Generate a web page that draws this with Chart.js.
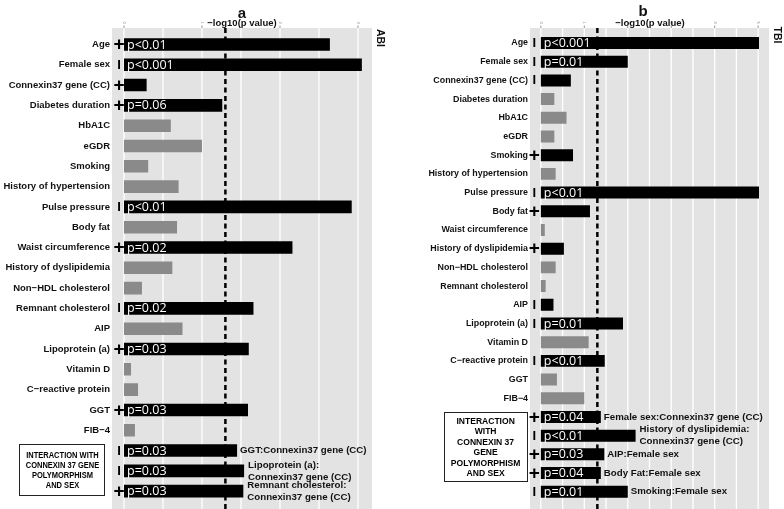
<!DOCTYPE html>
<html>
<head>
<meta charset="utf-8">
<script src="https://cdn.jsdelivr.net/npm/chart.js@4.4.1/dist/chart.umd.min.js"></script>
<style>
  body { margin: 0; background: #fff; width: 784px; height: 509px; overflow: hidden; position: relative; font-family: "Liberation Sans", Arial, sans-serif; }
  canvas { position: absolute; top: 0; }
  #chartA { left: 0; }
  #chartB { left: 392px; }
  .lbl { position: absolute; font-weight: bold; color: #111; white-space: nowrap; transform: translate(-50%, -50%); }
  .side { transform: translate(-50%, -50%) rotate(90deg); font-size: 10.5px; }
  .box { position: absolute; border: 1.5px solid #222; box-sizing: border-box; display: flex; align-items: center; justify-content: center; text-align: center;
         font-family: "Liberation Sans", Arial, sans-serif; font-weight: bold; font-size: 9.5px; line-height: 10px; color: #000; white-space: nowrap; }
  .box span { display: inline-block; transform: scaleX(0.79); }
  .box.tall span { transform: scaleX(0.9); }
</style>
</head>
<body>
<canvas id="chartA" width="392" height="509"></canvas>
<canvas id="chartB" width="392" height="509"></canvas>

<div class="lbl" style="left:242px;top:12px;font-size:15px;">a</div>
<div class="lbl" style="left:242px;top:21.5px;font-size:9.5px;">−log10(p value)</div>
<div class="lbl side" style="left:381px;top:38px;">ABI</div>
<div class="lbl" style="left:643px;top:10px;font-size:15px;">b</div>
<div class="lbl" style="left:650px;top:21.5px;font-size:9.5px;">−log10(p value)</div>
<div class="lbl side" style="left:778px;top:35px;">TBI</div>

<div class="box" style="left:19px;top:444px;width:86px;height:52px;"><span>INTERACTION WITH<br>CONNEXIN 37 GENE<br>POLYMORPHISM<br>AND SEX</span></div>
<div class="box tall" style="left:444px;top:412px;width:84px;height:70px;line-height:10.5px;"><span>INTERACTION<br>WITH<br>CONNEXIN 37<br>GENE<br>POLYMORPHISM<br>AND SEX</span></div>

<script>
// variables tested in both panels (top to bottom)
const variables = ['Age', 'Female sex', 'Connexin37 gene (CC)', 'Diabetes duration', 'HbA1C', 'eGDR', 'Smoking',
  'History of hypertension', 'Pulse pressure', 'Body fat', 'Waist circumference', 'History of dyslipidemia',
  'Non−HDL cholesterol', 'Remnant cholesterol', 'AIP', 'Lipoprotein (a)', 'Vitamin D', 'C−reactive protein', 'GGT', 'FIB−4'];

// panel a : ABI
const abiInteractions = [['GGT:Connexin37 gene (CC)'], ['Lipoprotein (a):', 'Connexin37 gene (CC)'], ['Remnant cholesterol:', 'Connexin37 gene (CC)']];
const abiValues = [2.64, 3.05, 0.29, 1.26, 0.60, 1.00, 0.31, 0.70, 2.92, 0.68, 2.16, 0.62, 0.23, 1.66, 0.75, 1.60, 0.09, 0.18, 1.59, 0.14,
  1.45, 1.54, 1.53];
const abiSigns = ['+', 'I', '+', '+', '', '', '', '', 'I', '', '+', '', '', 'I', '', '+', '', '', '+', '', 'I', 'I', '+'];
const abiP = ['p<0.01', 'p<0.001', '', 'p=0.06', '', '', '', '', 'p<0.01', '', 'p=0.02', '', '', 'p=0.02', '', 'p=0.03', '', '', 'p=0.03', '',
  'p=0.03', 'p=0.03', 'p=0.03'];
const abiTicks = [0, 1, 2, 3];

// panel b : TBI
const tbiInteractions = [['Female sex:Connexin37 gene (CC)'], ['History of dyslipidemia:', 'Connexin37 gene (CC)'], ['AIP:Female sex'],
  ['Body Fat:Female sex'], ['Smoking:Female sex']];
const tbiValues = [5.02, 2.00, 0.69, 0.31, 0.59, 0.31, 0.74, 0.34, 5.02, 1.13, 0.09, 0.53, 0.34, 0.11, 0.29, 1.89, 1.10, 1.47, 0.37, 1.00,
  1.38, 2.18, 1.46, 1.38, 2.00];
const tbiSigns = ['I', 'I', 'I', '', '', '', '+', '', 'I', '+', '', '+', '', '', 'I', 'I', '', 'I', '', '', '+', 'I', '+', '+', 'I'];
const tbiP = ['p<0.001', 'p=0.01', '', '', '', '', '', '', 'p<0.01', '', '', '', '', '', '', 'p=0.01', '', 'p<0.01', '', '',
  'p=0.04', 'p<0.01', 'p=0.03', 'p=0.04', 'p=0.01'];
const tbiTicks = [0, 1, 2, 3, 4, 5];

const sigLine = 1.3; // -log10(0.05)

// Plugin vẽ nền xám, lưới, đường p=0.05, dấu +/I và nhãn p
const panelPlugin = {
  id: 'panel',
  beforeDraw(chart, args, o) {
    const ctx = chart.ctx, xs = chart.scales.x, a = chart.chartArea;
    ctx.save();
    ctx.fillStyle = '#e3e3e3';
    ctx.fillRect(a.left, o.bgTop, a.right - a.left, chart.height - o.bgTop);
    ctx.strokeStyle = '#fff';
    ctx.lineWidth = 1.3;
    for (let v = 0; v <= o.gridMax + 1e-6; v += 0.5) {
      const px = xs.getPixelForValue(v);
      ctx.beginPath(); ctx.moveTo(px, o.bgTop); ctx.lineTo(px, chart.height); ctx.stroke();
    }
    ctx.strokeStyle = '#777';
    ctx.lineWidth = 0.8;
    ctx.fillStyle = '#888';
    ctx.font = '4px "Liberation Sans"';
    o.ticks.forEach(t => {
      const px = xs.getPixelForValue(t);
      ctx.beginPath(); ctx.moveTo(px, o.bgTop - 2.5); ctx.lineTo(px, o.bgTop); ctx.stroke();
      ctx.save();
      ctx.translate(px, o.bgTop - 5.5);
      ctx.rotate(Math.PI / 2);
      ctx.textAlign = 'center'; ctx.textBaseline = 'middle';
      ctx.fillText(String(t), 0, 0);
      ctx.restore();
    });
    ctx.restore();
  },
  beforeDatasetsDraw(chart, args, o) {
    const ctx = chart.ctx, px = chart.scales.x.getPixelForValue(sigLine);
    ctx.save();
    ctx.strokeStyle = '#000';
    ctx.lineWidth = 2.5;
    ctx.setLineDash([5, 3.5]);
    ctx.beginPath(); ctx.moveTo(px, o.bgTop); ctx.lineTo(px, chart.height); ctx.stroke();
    ctx.restore();
  },
  afterDatasetsDraw(chart, args, o) {
    const ctx = chart.ctx, xs = chart.scales.x;
    const bars = chart.getDatasetMeta(0).data;
    const x0 = xs.getPixelForValue(0);
    const sx = xs.getPixelForValue(o.signX);
    ctx.save();
    bars.forEach((bar, i) => {
      const s = o.signs[i];
      if (s) {
        ctx.fillStyle = '#000';
        ctx.textAlign = 'center';
        ctx.textBaseline = 'middle';
        ctx.font = s === '+' ? 'bold 19px "Liberation Sans"' : 'bold 13px "Liberation Sans"';
        ctx.fillText(s, sx, bar.y + 0.5);
      }
      if (o.pvals[i]) {
        ctx.fillStyle = '#fff';
        ctx.textAlign = 'left';
        ctx.textBaseline = 'middle';
        ctx.font = '12.5px "Open Sans"';
        ctx.fillText(o.pvals[i], x0 + 3, bar.y + 0.5);
      }
      const k = i - o.nVars;
      if (k >= 0) {
        const lines = o.inter[k];
        ctx.fillStyle = '#111';
        ctx.textAlign = 'left';
        ctx.textBaseline = 'middle';
        ctx.font = 'bold 9.7px "Liberation Sans"';
        if (lines.length === 1) {
          ctx.fillText(lines[0], bar.x + 3, bar.y);
        } else {
          ctx.fillText(lines[0], bar.x + 4, bar.y - 6);
          ctx.fillText(lines[1], bar.x + 4, bar.y + 6);
        }
      }
    });
    ctx.restore();
  }
};

function buildPanel(id, interactions, values, signs, pvals, ticks, cfg) {
  const labels = variables.concat(interactions.map(l => l.join(' ')));
  return new Chart(document.getElementById(id), {
    type: 'bar',
    data: {
      labels: labels,
      datasets: [{
        data: values,
        backgroundColor: signs.map(s => s ? '#000' : '#8a8a8a'),
        borderWidth: 0,
        barPercentage: cfg.barPct,
        categoryPercentage: 1
      }]
    },
    options: {
      indexAxis: 'y',
      responsive: false,
      animation: false,
      layout: { padding: { left: 0, right: cfg.padRight, top: cfg.padTop, bottom: cfg.padBottom } },
      plugins: {
        legend: { display: false },
        tooltip: { enabled: false },
        panel: {
          bgTop: 28, gridMax: ticks[ticks.length - 1], ticks: ticks, signX: cfg.signX,
          signs: signs, pvals: pvals, inter: interactions, nVars: variables.length
        }
      },
      scales: {
        x: { type: 'linear', min: cfg.xMin, max: cfg.xMax, display: false },
        y: {
          grid: { display: false, drawTicks: false },
          border: { display: false },
          afterFit: scale => { scale.width = cfg.yWidth; },
          ticks: {
            autoSkip: false,
            padding: 2,
            color: '#111',
            font: { family: 'Liberation Sans', weight: 'bold', size: cfg.labelSize },
            callback: function(value, index) {
              return index < variables.length ? variables[index] : '';
            }
          }
        }
      }
    },
    plugins: [panelPlugin]
  });
}

buildPanel('chartA', abiInteractions, abiValues, abiSigns, abiP, abiTicks,
  { yWidth: 112, padRight: 20, padTop: 34.3, padBottom: 6.3, xMin: -0.154, xMax: 3.18, signX: -0.065, barPct: 0.62, labelSize: 9.5 });
buildPanel('chartB', tbiInteractions, tbiValues, tbiSigns, tbiP, tbiTicks,
  { yWidth: 138, padRight: 15, padTop: 33.65, padBottom: 7.9, xMin: -0.25, xMax: 5.25, signX: -0.15, barPct: 0.64, labelSize: 8.9 });
</script>
</body>
</html>
